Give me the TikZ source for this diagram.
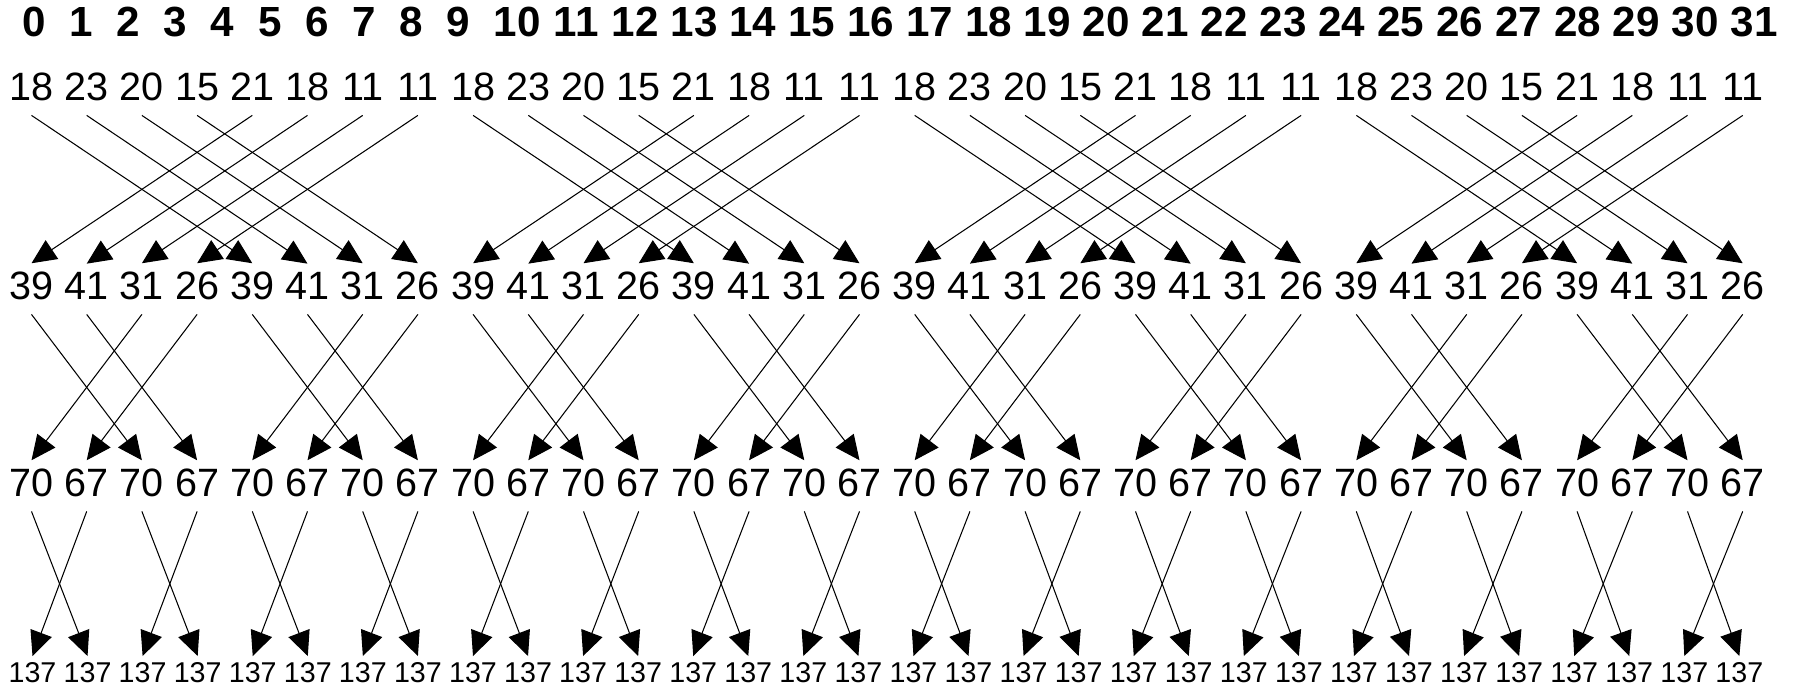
\documentclass[tikz,border=0pt]{standalone}
\usepackage{fontspec}
\setmainfont{Liberation Sans}
\usepackage{tikz}
\usetikzlibrary{arrows.meta}
\definecolor{mydark}{RGB}{0,0,0}
\tikzset{
  idxlabel/.style={anchor=base, inner sep=0pt,
    font=\fontsize{24}{28}\selectfont\bfseries},
  valnode/.style={anchor=base, inner xsep=0pt, inner ysep=5pt,
    text depth=3pt, font=\fontsize{22.5}{27}\selectfont},
  sumnode/.style={anchor=base, inner xsep=0pt, inner ysep=3.2pt,
    font=\fontsize{16.3}{19}\selectfont},
  arrow/.style={-{Triangle[length=14pt, width=12.8pt]},
    line width=0.6pt, color=mydark}
}

\begin{document}
\begin{tikzpicture}[x=0.02cm, y=-0.02cm]
  \useasboundingbox (0,0) rectangle (1801,688);

  % Index header
  \foreach \i in {0,...,31} {
    \pgfmathsetmacro\hx{ifthenelse(\i<10, 34+47.15*\i, 517.3+58.9*(\i-10))}
    \node[idxlabel] (h\i) at (\hx,37) {\i};
  }

  % Value rows (one per stage)
  \foreach \i in {0,...,31} {
    \pgfmathtruncatemacro\va{{18,23,20,15,21,18,11,11}[mod(\i,8)]}
    \pgfmathtruncatemacro\vb{{39,41,31,26}[mod(\i,4)]}
    \pgfmathtruncatemacro\vc{{70,67}[mod(\i,2)]}
    \node[valnode] (a\i) at (31.5+55.2*\i,101) {\va};
    \node[valnode] (b\i) at (31.5+55.2*\i,300) {\vb};
    \node[valnode] (c\i) at (31.5+55.2*\i,497) {\vc};
    \node[sumnode] (d\i) at (32.5+55.06*\i,682) {137};
  }

  % Butterfly arrows, partner at stride 4, 2, 1
  \foreach \i in {0,...,31} {
    \pgfmathtruncatemacro\pa{\i+4*(1-2*mod(floor(\i/4),2))}
    \pgfmathtruncatemacro\pb{\i+2*(1-2*mod(floor(\i/2),2))}
    \pgfmathtruncatemacro\pc{\i+1-2*mod(\i,2)}
    \draw[arrow] (a\i.south) -- (b\pa.north);
    \draw[arrow] (b\i.south) -- (c\pb.north);
    \draw[arrow] (c\i.south) -- (d\pc.north);
  }
\end{tikzpicture}
\end{document}
